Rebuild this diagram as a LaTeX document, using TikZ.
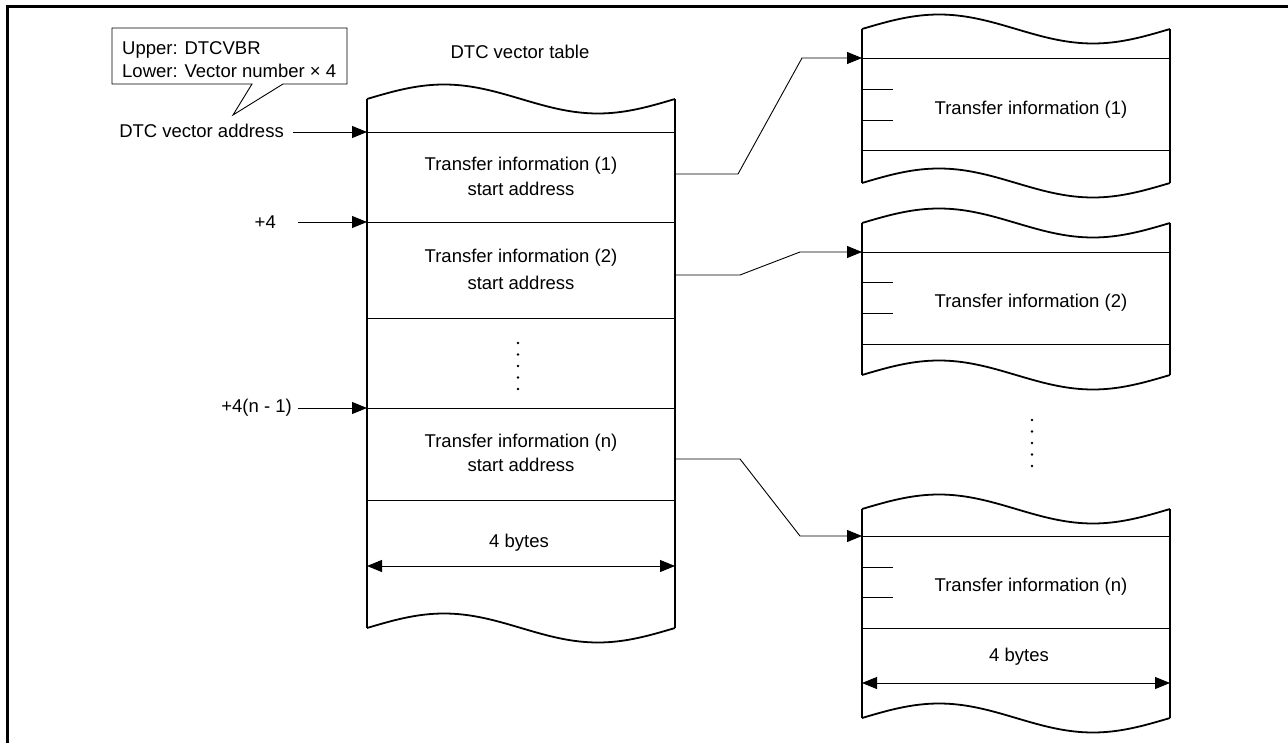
\documentclass[tikz,border=0pt]{standalone}
\usepackage{fontspec}
\setmainfont{Liberation Sans}
\usetikzlibrary{arrows.meta}
\tikzset{
  lbl/.style={font=\fontsize{18.5}{22}\selectfont, inner sep=0pt},
  outl/.style={line width=1.8pt},
  thinl/.style={line width=0.9pt},
  arr/.style={-{Triangle[length=15pt,width=12pt]}, line width=0.9pt},
  dimarr/.style={{Triangle[length=15pt,width=12pt]}-{Triangle[length=15pt,width=12pt]}, line width=0.9pt},
}
\newcommand{\memblock}[4]{%
  \draw[outl] plot[domain=0:1,samples=61] ({#1+(#2-#1)*\x},{#3-14.5*sin(360*\x)});
  \draw[outl] plot[domain=0:1,samples=61] ({#1+(#2-#1)*\x},{#4-14.5*sin(360*\x)});
  \draw[outl] (#1,#3) -- (#1,#4);
  \draw[outl] (#2,#3) -- (#2,#4);
}
\newcommand{\mydotcol}[3]{%
  \foreach \k in {0,...,4} {\fill (#1,{#2+\k*#3}) circle (1.3);}
}
\begin{document}
\begin{tikzpicture}[x=1pt,y=-1pt]
\useasboundingbox (0,0) rectangle (1288,743);
% frame
\draw[line width=3pt] (7,743) -- (7,7) -- (1288,7);

% callout
\draw[thinl] (112,28) -- (347,28) -- (347,84) -- (283,84) -- (233,115) -- (252,84) -- (112,84) -- cycle;
\node[lbl, anchor=west] (up) at (122,50) {Upper: DTCVBR};
\node[lbl, anchor=west] (lo) at (122,71) {Lower: Vector number × 4};

% main vector table
\node[lbl] (title) at (520,52) {DTC vector table};
\memblock{367}{675}{99}{628}
\foreach \yy in {132,222,318,408,500} \draw[thinl] (367,\yy) -- (675,\yy);
\node[lbl] (t1a) at (521,166) {Transfer information (1)};
\node[lbl] (t1b) at (521,189) {start address};
\node[lbl] (t2a) at (521,258) {Transfer information (2)};
\node[lbl] (t2b) at (521,283) {start address};
\node[lbl] (tna) at (521,443) {Transfer information (n)};
\node[lbl] (tnb) at (521,465) {start address};
\mydotcol{518}{343}{11.5}
\node[lbl] (bytesA) at (519,543) {4 bytes};
\coordinate (mL) at (367,566);
\coordinate (mR) at (675,566);
\draw[dimarr] (mL) -- (mR);

% left labels and arrows
\node[lbl, anchor=east] (dva) at (284,131) {DTC vector address};
\node[lbl, anchor=east] (p4) at (276,222) {+4};
\node[lbl, anchor=east] (p4n) at (292,408) {+4(n - 1)};
\coordinate (e0) at (367,132);
\coordinate (e1) at (367,222);
\coordinate (e2) at (367,408);
\coordinate (b0) at (293,132);
\coordinate (b1) at (298,222);
\coordinate (b2) at (298,408);
\draw[arr] (b0) -- (e0);
\draw[arr] (b1) -- (e1);
\draw[arr] (b2) -- (e2);

% right boxes
\memblock{862}{1170}{29}{183}
\foreach \yy in {58,150} \draw[thinl] (862,\yy) -- (1170,\yy);
\foreach \yy in {89,120} \draw[thinl] (862,\yy) -- (893,\yy);
\node[lbl] (r1) at (1031,110) {Transfer information (1)};

\memblock{862}{1170}{223}{375}
\foreach \yy in {252,344} \draw[thinl] (862,\yy) -- (1170,\yy);
\foreach \yy in {282,313} \draw[thinl] (862,\yy) -- (893,\yy);
\node[lbl] (r2) at (1031,303) {Transfer information (2)};

\mydotcol{1032}{420}{11.5}

\memblock{862}{1170}{509}{718}
\foreach \yy in {536,628} \draw[thinl] (862,\yy) -- (1170,\yy);
\foreach \yy in {567,597} \draw[thinl] (862,\yy) -- (893,\yy);
\node[lbl] (rn) at (1031,587) {Transfer information (n)};
\node[lbl] (bytesB) at (1019,657) {4 bytes};
\coordinate (nL) at (862,683);
\coordinate (nR) at (1170,683);
\draw[dimarr] (nL) -- (nR);

% connectors
\coordinate (s1) at (675,174);
\coordinate (s2) at (675,275);
\coordinate (sn) at (675,459);
\coordinate (d1) at (862,58);
\coordinate (d2) at (862,252);
\coordinate (dn) at (862,536);
\draw[arr] (s1) -- (738,174) -- (802,58) -- (d1);
\draw[arr] (s2) -- (740,275) -- (800,252) -- (d2);
\draw[arr] (sn) -- (740,459) -- (800,536) -- (dn);
\end{tikzpicture}
\end{document}
